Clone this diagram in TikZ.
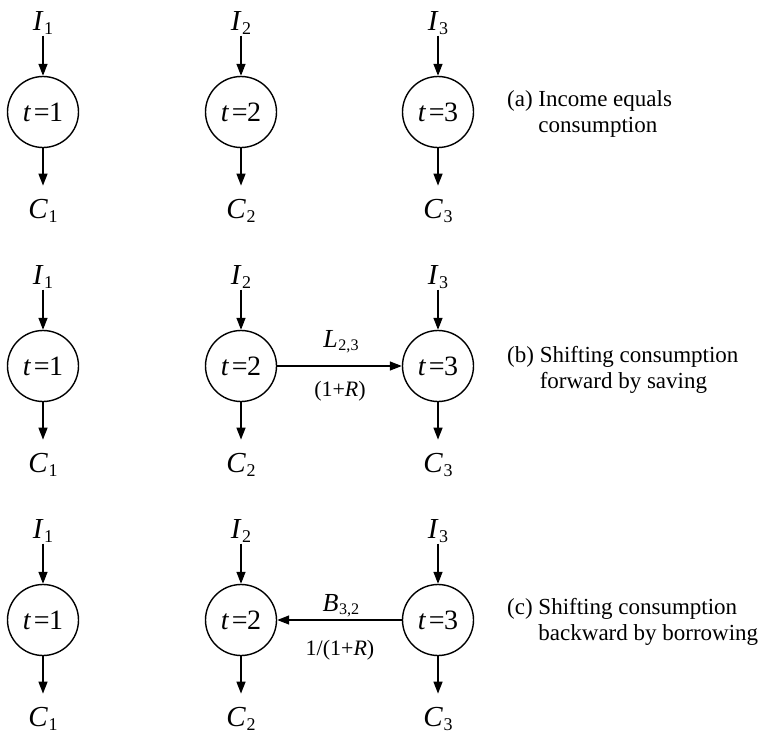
\documentclass[tikz,border=0pt]{standalone}
\usepackage{fontspec}
\setmainfont{Liberation Serif}
\usetikzlibrary{arrows.meta}
\newcommand{\vsub}[2]{\textit{#1}\kern0.5pt\raisebox{-0.15em}{\scalebox{0.62}{#2}}}
\newcommand{\tnode}[1]{\textit{t}\kern2.5pt=\kern-0.5pt#1}
\begin{document}
\begin{tikzpicture}[x=1pt,y=-1pt,
  period/.style={circle,draw,line width=1.4pt,minimum size=71pt,inner sep=0pt,font=\fontsize{28}{30}\selectfont},
  varlab/.style={inner sep=0pt,anchor=base,font=\fontsize{29}{31}\selectfont},
  flowlab/.style={inner sep=0pt,anchor=base,font=\fontsize{22}{24}\selectfont},
  flowvar/.style={flowlab,font=\fontsize{26}{28}\selectfont},
  caption/.style={inner sep=0pt,anchor=base west,font=\fontsize{23}{26.5}\selectfont},
  flow/.style={line width=1.4pt,-{Triangle[length=12pt,width=9pt]}},
  inarrow/.style={flow,shorten <=1pt},
  outarrow/.style={flow,shorten >=13pt}
]
\useasboundingbox (0,0) rectangle (760,734);
% rows
\foreach \r/\y in {a/112,b/366,c/620}{
  \foreach \k/\x in {1/43,2/241,3/438}{
    \node[period] (\r\k) at (\x,\y) {\tnode{\k}};
    \node[varlab] (I\r\k) at (\x,\y-82) {\vsub{I}{\k}};
    \node[varlab] (C\r\k) at (\x,\y+106) {\vsub{C}{\k}};
    \draw[inarrow] (I\r\k) -- (\r\k);
    \draw[outarrow] (\r\k) -- (C\r\k);
  }
}
% horizontal flows
\draw[flow] (b2) -- (b3);
\node[flowvar] (Lb) at (341,347) {\vsub{L}{2,3}};
\node[flowlab] (Rb) at (340,396) {(1+\textit{R})};
\draw[flow] (c3) -- (c2);
\node[flowvar] (Bc) at (341,611) {\vsub{B}{3,2}};
\node[flowlab] (Rc) at (340,655) {1/(1+\textit{R})};
% captions
\node[caption] (capa) at (507,106) {\begin{tabular}[t]{@{}l@{\ }l@{}}(a)&Income equals\\&consumption\end{tabular}};
\node[caption] (capb) at (507,362) {\begin{tabular}[t]{@{}l@{\ }l@{}}(b)&Shifting consumption\\&forward by saving\end{tabular}};
\node[caption] (capc) at (507,614) {\begin{tabular}[t]{@{}l@{\ }l@{}}(c)&Shifting consumption\\&backward by borrowing\end{tabular}};
\end{tikzpicture}
\end{document}
